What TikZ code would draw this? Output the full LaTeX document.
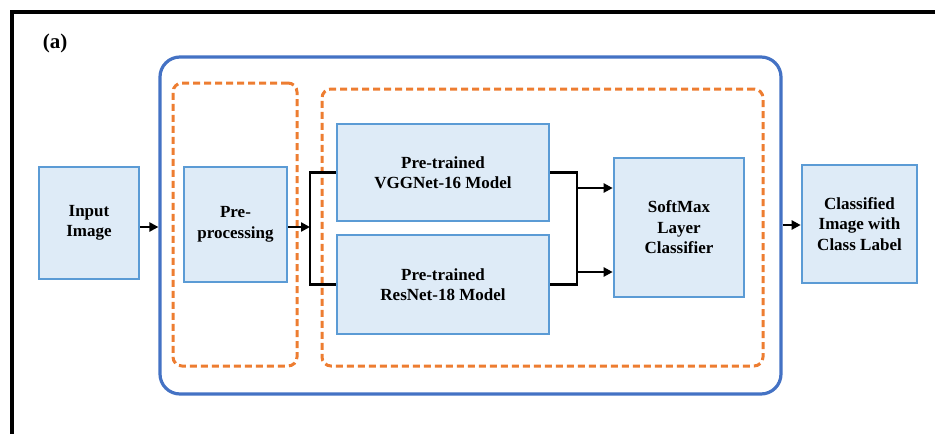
\documentclass[tikz,border=0pt]{standalone}
\usepackage{fontspec}
\setmainfont{Liberation Serif}
\usetikzlibrary{arrows.meta}
\definecolor{boxfill}{RGB}{222,235,247}
\definecolor{boxline}{RGB}{91,155,213}
\definecolor{outerblue}{RGB}{68,114,196}
\definecolor{dashorange}{RGB}{237,125,49}
\tikzset{
  blk/.style={draw=boxline, fill=boxfill, line width=2.6pt, align=center,
    font=\fontsize{17}{20.5}\selectfont\bfseries, inner sep=0pt},
  groupbox/.style={draw=dashorange, line width=3pt, dash pattern=on 7pt off 4pt, rounded corners=9pt},
  outerbox/.style={draw=outerblue, line width=3.2pt, rounded corners=20pt},
  conn/.style={draw=black, line width=2.4pt},
  arr/.style={conn, -{Triangle[length=9pt,width=9pt]}}
}
\begin{document}
\begin{tikzpicture}[x=1pt,y=-1pt]
\useasboundingbox (0,0) rectangle (935,434);
% frame
\draw[line width=4pt] (11.5,445) -- (11.5,11.5) -- (945,11.5);
\node[font=\fontsize{21}{24}\selectfont\bfseries, anchor=center] (lab) at (55,43) {(a)};
% outer and group boxes
\node[outerbox, minimum width=621pt, minimum height=337pt, inner sep=0pt] (outer) at (470.5,225.5) {};
\node[groupbox, minimum width=124pt, minimum height=283pt, inner sep=0pt] (grp1) at (235,224.5) {};
\node[groupbox, minimum width=441pt, minimum height=277pt, inner sep=0pt] (grp2) at (542.5,227.5) {};
% blocks
\node[blk, minimum width=100pt, minimum height=112pt] (inp) at (89,223) {Input\\Image};
\node[blk, minimum width=103pt, minimum height=115pt] (pre) at (235.5,224.5) {Pre-\\processing};
\node[blk, minimum width=212pt, minimum height=97pt] (vgg) at (443,172.5) {Pre-trained\\VGGNet-16 Model};
\node[blk, minimum width=212pt, minimum height=99pt] (res) at (443,284.5) {Pre-trained\\ResNet-18 Model};
\node[blk, minimum width=130pt, minimum height=139pt] (soft) at (679,227.5) {SoftMax\\Layer\\Classifier};
\node[blk, minimum width=115pt, minimum height=118pt] (cls) at (859.5,224) {Classified\\Image with\\Class Label};
% connectors
\coordinate (splitL) at (310,227);
\coordinate (mergeR) at (577,230);
\coordinate (m1) at (577,188);
\coordinate (m2) at (577,272);
\draw[arr] (inp.east |- 0,227) -- (outer.west |- 0,227);
\draw[arr] (pre.east |- splitL) -- (splitL);
\draw[conn] (vgg.west) -| (splitL) |- (res.west);
\draw[conn] (vgg.east) -| (mergeR) |- (res.east);
\draw[arr] (m1) -- (soft.west |- m1);
\draw[arr] (m2) -- (soft.west |- m2);
\draw[arr] (outer.east |- 0,225) -- (cls.west |- 0,225);
\end{tikzpicture}
\end{document}
